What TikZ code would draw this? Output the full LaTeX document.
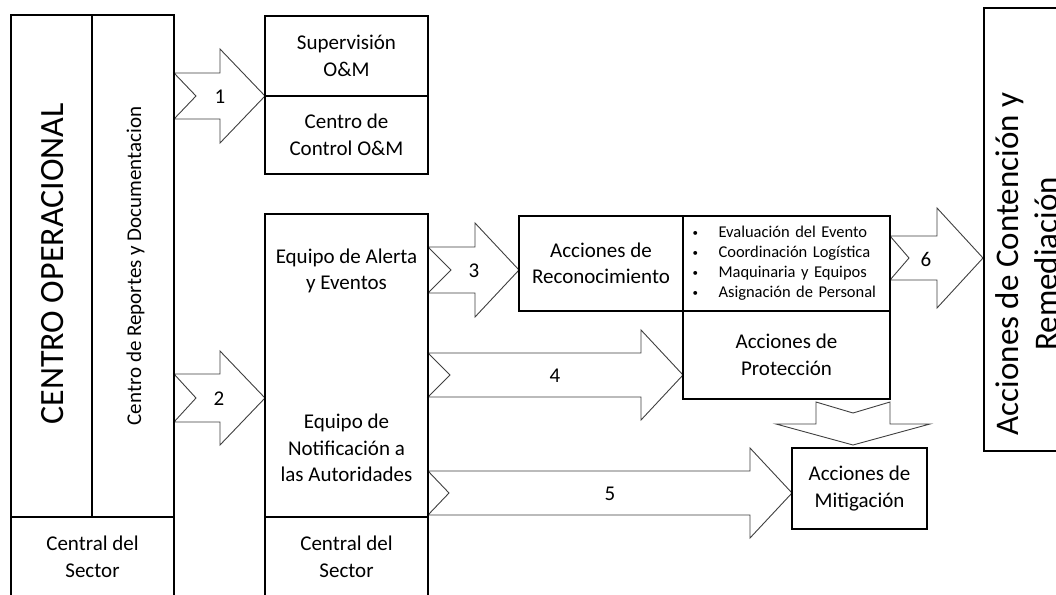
\documentclass[tikz,border=0pt]{standalone}
\usepackage{fontspec}
\setmainfont{Carlito}
\usetikzlibrary{calc,backgrounds}
\tikzset{
  box/.style={draw=black, line width=2.5pt, inner sep=0pt, outer sep=0pt, align=center,
    font=\fontsize{21}{26.5}\selectfont, anchor=north west},
  txt/.style={inner sep=0pt, align=center, font=\fontsize{21}{26.5}\selectfont},
  rottxt/.style={inner sep=0pt, anchor=base, rotate=90},
  arr/.style={draw=black!75, line width=0.9pt, fill=white, line join=miter},
  lbl/.style={inner sep=0pt, font=\fontsize{21}{26.5}\selectfont},
}
\newcommand{\bulmark}{\makebox[27pt][l]{\hspace{1pt}\raisebox{1.2pt}{\fontsize{11}{11}\selectfont\textbullet}}}
% right block arrow: tail point (x used), tip point, shaft half, head half, head length, notch
\newcommand{\blkR}[6]{%
  \draw[arr] let \p1=(#1), \p2=(#2) in
    (\x1,\y2+#3pt) -- (\x2-#5pt,\y2+#3pt) -- (\x2-#5pt,\y2+#4pt) -- (\x2,\y2)
    -- (\x2-#5pt,\y2-#4pt) -- (\x2-#5pt,\y2-#3pt) -- (\x1,\y2-#3pt) -- (\x1+#6pt,\y2) -- cycle;}
% down block arrow: tail point (y used), tip point
\newcommand{\blkD}[6]{%
  \draw[arr] let \p1=(#1), \p2=(#2) in
    (\x2-#3pt,\y1) -- (\x2-#3pt,\y2+#5pt) -- (\x2-#4pt,\y2+#5pt) -- (\x2,\y2)
    -- (\x2+#4pt,\y2+#5pt) -- (\x2+#3pt,\y2+#5pt) -- (\x2+#3pt,\y1) -- (\x2,\y1-#6pt) -- cycle;}
\begin{document}
\begin{tikzpicture}[x=1pt,y=-1pt]
\useasboundingbox (0,0) rectangle (1056,594);
\clip (0,0) rectangle (1056,594);
% left column
\node[box, minimum width=81, minimum height=502] (co) at (11,15) {};
\node[box, minimum width=82, minimum height=502] (crd) at (92,15) {};
\node[box, minimum width=163, minimum height=80] (lsec) at (11,517) {Central del\\Sector};
\node[rottxt, font=\fontsize{34}{40}\selectfont] (cot) at (63,264) {CENTRO OPERACIONAL};
\node[rottxt, font=\fontsize{21}{26.5}\selectfont] (crdt) at (141,266) {Centro de Reportes y Documentacion};
% middle column
\node[box, minimum width=163, minimum height=80] (sup) at (265,16) {Supervisión\\O\&M};
\node[box, minimum width=163, minimum height=78] (ccm) at (265,96) {Centro de\\Control O\&M};
\node[box, minimum width=163, minimum height=303] (eq) at (265,214) {};
\node[txt] (eqa) at (346.5,271) {Equipo de Alerta\\y Eventos};
\node[txt] (eqn) at (346.5,448) {Equipo de\\Notificación a\\las Autoridades};
\node[box, minimum width=163, minimum height=80] (msec) at (265,517) {Central del\\Sector};
% right part
\node[box, minimum width=164, minimum height=95] (rec) at (519,216) {Acciones de\\Reconocimiento};
\node[box, minimum width=207, minimum height=95, text width=190, inner xsep=8.5pt, align=left,
  font=\fontsize{16.5}{20}\selectfont] (bul) at (683,216)
  {\bulmark Evaluación del Evento\\
   \bulmark Coordinación Logística\\
   \bulmark Maquinaria y Equipos\\
   \bulmark Asignación de Personal};
\node[box, minimum width=207, minimum height=88] (prot) at (683,311) {Acciones de\\Protección};
\node[box, minimum width=135, minimum height=81] (mit) at (792,448) {Acciones de\\Mitigación};
\node[box, minimum width=120, minimum height=443] (acr) at (984,8) {};
\node[rottxt, font=\fontsize{33}{40}\selectfont] (acr1) at (1018,264) {Acciones de Contención y};
\node[rottxt, font=\fontsize{33}{40}\selectfont] (acr2) at (1057,264) {Remediación};
% arrow tips
\coordinate (t2) at (265,398);
\coordinate (t3) at (519,270);
\coordinate (t4) at (683,375);
\coordinate (t5) at (792,493);
\coordinate (t6) at (983,258);
\coordinate (sd) at (853,402);
\coordinate (td) at (853,445);
\begin{scope}[on background layer]
  \fill[white] (0,0) rectangle (1056,594);
  \blkR{crd.east}{sup.south west}{23}{47}{45}{22}
  \blkR{crd.east}{t2}{24}{47}{45}{22}
  \blkR{eq.east}{t3}{23}{47}{44}{23}
  \blkR{eq.east}{t4}{22}{45}{42}{22}
  \blkR{eq.east}{t5}{22}{45}{42}{21}
  \blkR{bul.east}{t6}{22}{50}{46}{19}
  \blkD{sd}{td}{37}{77}{21}{11}
\end{scope}
\node[lbl] (n1) at (220,97) {1};
\node[lbl] (n2) at (219,399) {2};
\node[lbl] (n3) at (474,271) {3};
\node[lbl] (n4) at (555,376) {4};
\node[lbl] (n5) at (610,494) {5};
\node[lbl] (n6) at (926,259) {6};
\end{tikzpicture}
\end{document}
